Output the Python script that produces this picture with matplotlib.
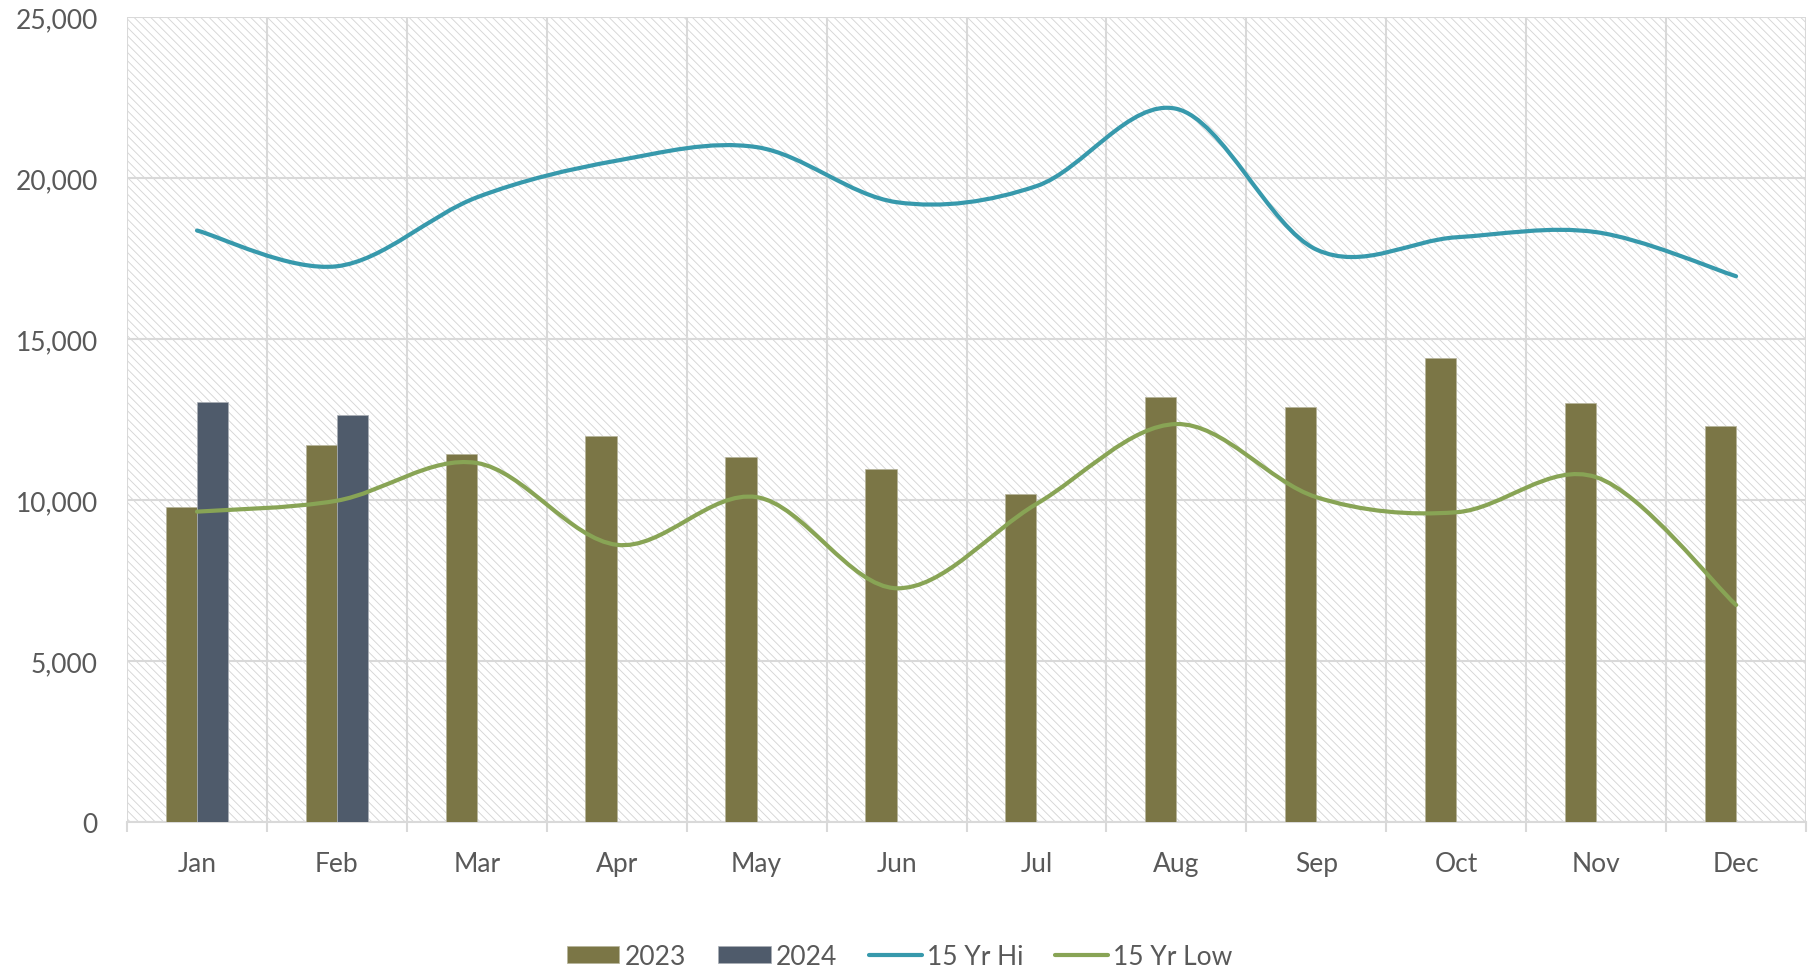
import matplotlib
matplotlib.use("Agg")
import matplotlib.pyplot as plt
from matplotlib.path import Path
from matplotlib.patches import PathPatch
from matplotlib.lines import Line2D
from matplotlib.ticker import FuncFormatter, MultipleLocator
import numpy as np


MONTHS = ["Jan", "Feb", "Mar", "Apr", "May", "Jun", "Jul", "Aug", "Sep", "Oct", "Nov", "Dec"]
VALUES_2023 = [9790, 11710, 11430, 11980, 11330, 10970, 10180, 13190, 12890, 14410, 13010, 12310]
VALUES_2024 = [13060, 12640]
HI_15YR = [18370, 17260, 19400, 20540, 20960, 19250, 19750, 22150, 17780, 18160, 18320, 16950]
LOW_15YR = [9640, 9980, 11150, 8610, 10090, 7260, 9880, 12360, 10090, 9620, 10710, 6740]

COLOR_2023 = "#7B7646"
COLOR_2024 = "#4F5B6B"
COLOR_HI = "#3799AC"
COLOR_LOW = "#88A455"
GRID = "#D9D9D9"
TEXT = "#595959"


def smooth_path(x, y) -> Path:
    '''
    builds an excel-like smoothed line (catmull-rom as cubic bezier) through the points
    '''
    pts = np.column_stack([x, y]).astype(float)
    n = len(pts)
    verts = [pts[0]]
    codes = [Path.MOVETO]
    for i in range(n - 1):
        p0 = pts[max(i - 1, 0)]
        p1 = pts[i]
        p2 = pts[i + 1]
        p3 = pts[min(i + 2, n - 1)]
        c1 = p1 + (p2 - p0) / 6.0
        c2 = p2 - (p3 - p1) / 6.0
        verts += [c1, c2, p2]
        codes += [Path.CURVE4] * 3
    return Path(verts, codes)


def main():

    plt.rcParams["font.family"] = ["Lato", "DejaVu Sans"]
    plt.rcParams["hatch.color"] = "#D6D6D6"
    plt.rcParams["hatch.linewidth"] = 0.65

    fig = plt.figure(figsize=(18.1, 9.7), dpi=100)
    ax = fig.add_axes([0.0702, 0.1515, 0.9276, 0.8299])

    # hatched plot background
    ax.patch.set_facecolor("white")
    ax.patch.set_edgecolor("#D6D6D6")
    ax.patch.set_hatch("\\\\\\\\")

    x = np.arange(len(MONTHS))
    width = 0.224

    ax.bar(x - width / 2, VALUES_2023, width, color=COLOR_2023,
           edgecolor="#B5B39A", linewidth=0.5, zorder=3, label="2023")
    ax.bar(x[:len(VALUES_2024)] + width / 2, VALUES_2024, width, color=COLOR_2024,
           edgecolor="#A9AEB5", linewidth=0.5, zorder=3, label="2024")

    # smoothed lines
    for vals, col in [(HI_15YR, COLOR_HI), (LOW_15YR, COLOR_LOW)]:
        ax.add_patch(PathPatch(smooth_path(x, vals), fill=False, edgecolor=col,
                               linewidth=3, capstyle="round", joinstyle="round", zorder=4))

    ax.set_xlim(-0.5, len(MONTHS) - 0.5)
    ax.set_ylim(0, 25000)

    ax.yaxis.set_major_locator(MultipleLocator(5000))
    ax.yaxis.set_major_formatter(FuncFormatter(lambda v, p: f"{int(v):,}"))
    ax.set_xticks(x)
    ax.set_xticklabels(MONTHS)
    ax.set_xticks(np.arange(-0.5, len(MONTHS)), minor=True)

    ax.tick_params(axis="y", length=0, pad=21, labelsize=19, labelcolor=TEXT)
    ax.tick_params(axis="x", which="major", length=0, pad=21, labelsize=19, labelcolor=TEXT)
    ax.tick_params(axis="x", which="minor", length=7.5, width=1.5, color=GRID)

    ax.grid(axis="y", which="major", color=GRID, linewidth=1.5, zorder=1)
    ax.grid(axis="x", which="minor", color=GRID, linewidth=1.5, zorder=1)
    ax.set_axisbelow(True)

    for side in ["top", "left", "right"]:
        ax.spines[side].set_visible(False)
    ax.spines["bottom"].set_color(GRID)
    ax.spines["bottom"].set_linewidth(1.5)

    # legend
    handles, labels = ax.get_legend_handles_labels()
    handles += [Line2D([], [], color=COLOR_HI, linewidth=3, solid_capstyle="round"),
                Line2D([], [], color=COLOR_LOW, linewidth=3, solid_capstyle="round")]
    labels += ["15 Yr Hi", "15 Yr Low"]
    fig.legend(handles, labels, loc="center", bbox_to_anchor=(0.497, 0.013), ncol=4,
               frameon=False, fontsize=19, labelcolor=TEXT, handlelength=2.0,
               handleheight=0.65, handletextpad=0.2, columnspacing=1.2)

    fig.savefig("out.png", dpi=100)
    plt.close()


if __name__ == "__main__":
    main()
